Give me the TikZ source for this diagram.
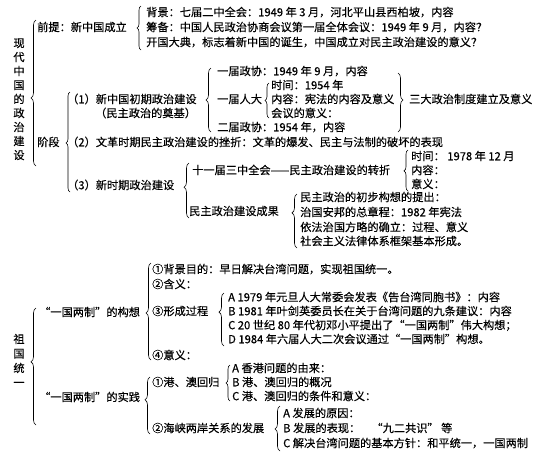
\documentclass[tikz,border=0pt]{standalone}
\usepackage{fontspec}
\setmainfont{Noto Sans CJK SC}[FakeBold=0.25]
\usetikzlibrary{decorations.pathreplacing}
\tikzset{
  txt/.style={inner sep=0pt, anchor=west, font=\fontsize{11.2}{13}\selectfont, text height=8.5pt, text depth=2pt},
  brc/.style={draw=black, line width=0.6pt, decorate, decoration={brace, amplitude=#1}},
  brc/.default=4pt
}
% name, x, ytop, ybot, aspect, amplitude  (tip pointing left)
\newcommand{\LBr}[6]{%
  \coordinate (#1t) at (#2,#3);
  \coordinate (#1b) at (#2,#4);
  \draw[brc=#6, decoration={aspect=#5}] (#1b) -- (#1t);}
\begin{document}
\begin{tikzpicture}[x=1pt,y=-1pt]
\useasboundingbox (0,0) rectangle (554,459);
\fill[white] (0,0) rectangle (554,459);

% ---------- Section 1 ----------
\foreach \c [count=\i] in {现,代,中,国,的,政,治,建,设}
  \node[txt, anchor=center] (v\i) at (19, 30+14*\i) {\c};
\LBr{bxd}{36}{20}{166}{0.466}{5pt}

\node[txt] (qt) at (37,28) {前提：新中国成立};
\LBr{bqt}{141}{6}{50}{0.5}{4pt}
\node[txt] (bj) at (146,13) {背景：七届二中全会：1949 年 3 月，河北平山县西柏坡，内容};
\node[txt] (cb) at (146,28) {筹备：中国人民政治协商会议第一届全体会议：1949 年 9 月，内容？};
\node[txt] (kg) at (146,43) {开国大典，标志着新中国的诞生，中国成立对民主政治建设的意义？};

\node[txt] (jd) at (37,143) {阶段};
\LBr{bjd}{70}{92}{192}{0.49}{4pt}

\node[txt] (s1) at (67,100) {（1）新中国初期政治建设};
\node[txt] (s1b) at (95,114) {（民主政治的奠基）};
\LBr{bs1}{211}{68}{132}{0.5}{5pt}
\node[txt] (yjzx) at (217,72) {一届政协：1949 年 9 月，内容};
\node[txt] (yjrd) at (217,100) {一届人大};
\LBr{brd}{269}{83}{118}{0.5}{4pt}
\node[txt] (sj54) at (271,86) {时间：1954 年};
\node[txt] (nr54) at (271,100) {内容：宪法的内容及意义};
\node[txt] (yy54) at (271,114) {会议的意义：};
\node[txt] (ejzx) at (217,128) {二届政协：1954 年，内容};
\coordinate (bsdt) at (398,73);
\coordinate (bsdb) at (398,132);
\draw[brc=5pt, decoration={aspect=0.458}] (bsdt) -- (bsdb);
\node[txt] (sd) at (409,100) {三大政治制度建立及意义};

\node[txt] (s2) at (67,143) {（2）文革时期民主政治建设的挫折：文革的爆发、民主与法制的破坏的表现};

\node[txt] (s3) at (67,186) {（3）新时期政治建设};
\LBr{bs3}{189}{163}{218}{0.56}{5pt}
\node[txt] (sy) at (192,171) {十一届三中全会——民主政治建设的转折};
\LBr{bsy}{408}{150}{191}{0.49}{4pt}
\node[txt] (sj78) at (411,157) {时间：\ 1978 年 12 月};
\node[txt] (nr78) at (411,171) {内容：};
\node[txt] (yy78) at (411,185) {意义：};
\node[txt] (cg) at (189,212) {民主政治建设成果};
\LBr{bcg}{297}{194}{248}{0.65}{5pt}
\node[txt] (c1) at (300,198) {民主政治的初步构想的提出：};
\node[txt] (c2) at (300,213) {治国安邦的总章程：1982 年宪法};
\node[txt] (c3) at (300,228) {依法治国方略的确立：过程、意义};
\node[txt] (c4) at (300,242) {社会主义法律体系框架基本形成。};

% ---------- Section 2 ----------
\foreach \c [count=\i] in {祖,国,统,一}
  \node[txt, anchor=center] (z\i) at (19, 325.5+14.5*\i) {\c};
\LBr{bzg}{36}{308}{425}{0.54}{5pt}

\node[txt] (gx) at (39,313) {“一国两制”的构想};
\LBr{bgx}{151}{263}{360}{0.485}{5pt}
\node[txt] (g1) at (152,270) {①背景目的：早日解决台湾问题，实现祖国统一。};
\node[txt] (g2) at (152,285) {②含义：};
\node[txt] (g3) at (152,312) {③形成过程};
\node[txt] (g4) at (152,356) {④意义：};
\LBr{bg3}{224}{293}{346}{0.64}{5pt}
\node[txt] (ga) at (228,298) {A 1979 年元旦人大常委会发表《告台湾同胞书》：内容};
\node[txt] (gb) at (228,312) {B 1981 年叶剑英委员长在关于台湾问题的九条建议：内容};
\node[txt] (gc) at (228,326) {C 20 世纪 80 年代初邓小平提出了“一国两制”伟大构想；};
\node[txt] (gd) at (228,340) {D 1984 年六届人大二次会议通过“一国两制”构想。};

\node[txt] (sj) at (39,398) {“一国两制”的实践};
\LBr{bsj}{150}{377}{434}{0.6}{5pt}
\node[txt] (p1) at (152,383) {①港、澳回归};
\LBr{bp1}{230}{365}{401}{0.5}{4pt}
\node[txt] (pa) at (232,369) {A 香港问题的由来：};
\node[txt] (pb) at (232,383) {B 港、澳回归的概况};
\node[txt] (pc) at (232,397) {C 港、澳回归的条件和意义：};
\node[txt] (p2) at (152,429) {②海峡两岸关系的发展};
\LBr{bp2}{280}{406}{451}{0.49}{5pt}
\node[txt] (qa) at (283,414) {A 发展的原因：};
\node[txt] (qb) at (283,429) {B 发展的表现：\quad“九二共识”\ 等};
\node[txt] (qc) at (283,444) {C 解决台湾问题的基本方针：和平统一，一国两制};
\end{tikzpicture}
\end{document}
